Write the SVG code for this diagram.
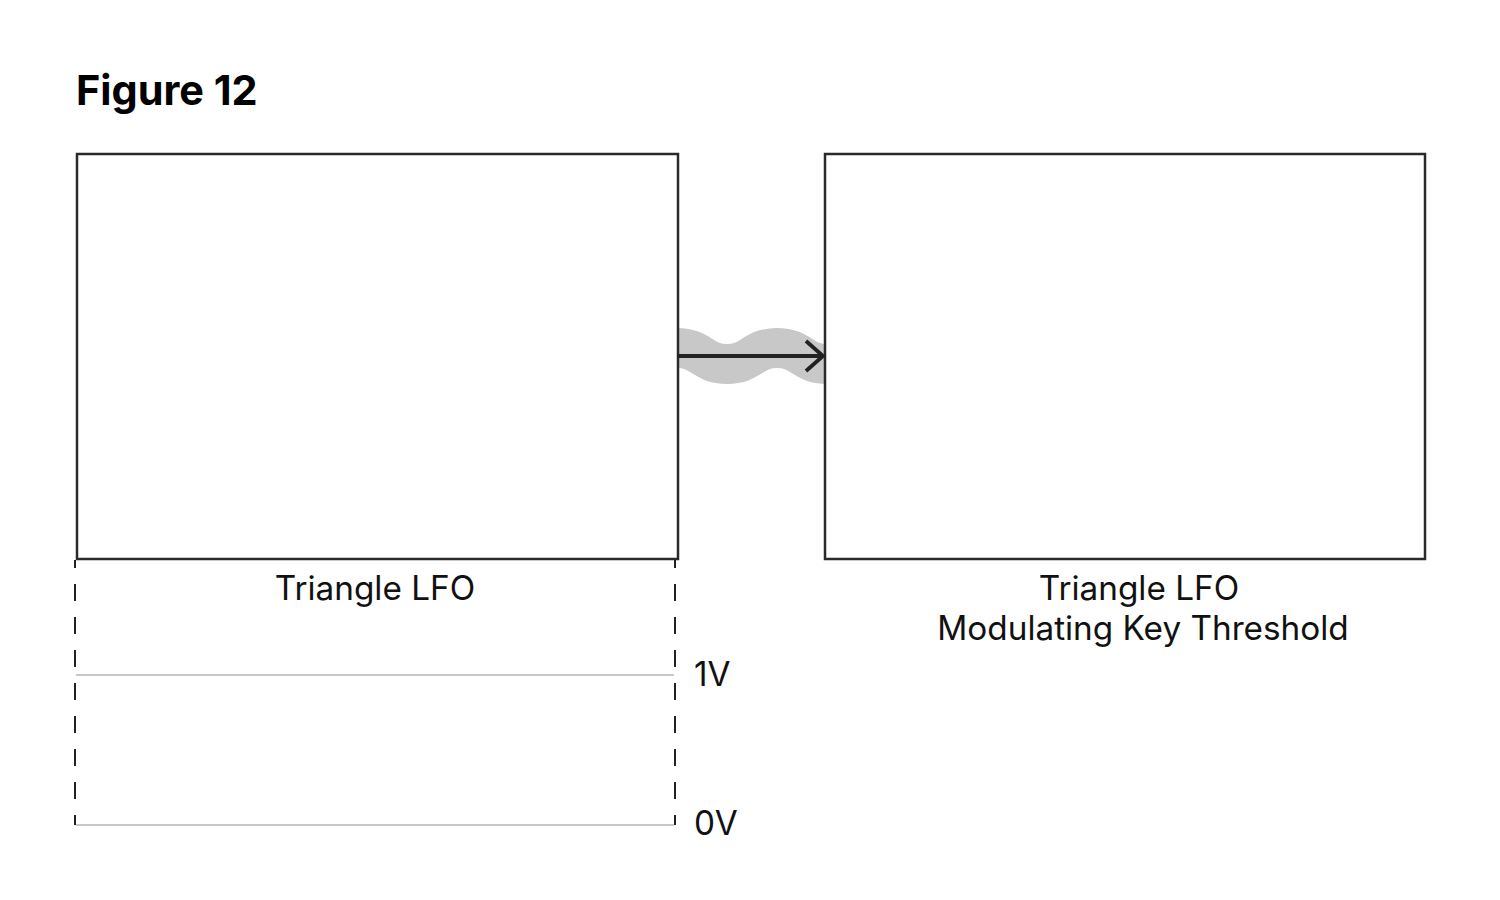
<svg xmlns="http://www.w3.org/2000/svg" width="1500" height="900" viewBox="0 0 1500 900">
<style>
.box{fill:#fff;stroke:#2a2a2a;stroke-width:2.5}
.lbl{font-family:Inter,"Liberation Sans",sans-serif;font-size:33.3px;fill:#111;text-anchor:middle}
.v{font-family:Inter,"Liberation Sans",sans-serif;font-size:33.3px;fill:#111}
.dash{stroke:#222;stroke-width:2;stroke-dasharray:17 16;stroke-dashoffset:9;fill:none}
.grid{stroke:#c8c8c8;stroke-width:2;fill:none}
</style>
<rect width="1500" height="900" fill="#fff"/>
<text x="76" y="105" font-family="Inter,'Liberation Sans',sans-serif" font-size="41.4" font-weight="700" fill="#000">Figure 12</text>
<g id="connectors">
<path d="M677,348 C702,348 702,364 727,364 C752,364 752,348 777,348 C802,348 802,364 827,364" fill="none" stroke="#c8c8c8" stroke-width="40"/>
</g>
<g id="node-left">
<rect class="box" x="77" y="154" width="601" height="405"/>
<text class="lbl" x="375" y="600">Triangle LFO</text>
</g>
<g id="node-right">
<rect class="box" x="825" y="154" width="600" height="405"/>
<text class="lbl" x="1139" y="600">Triangle LFO</text>
<text class="lbl" x="1143" y="640">Modulating Key Threshold</text>
</g>
<g id="connectors-arrow">
<line x1="677" y1="356" x2="823" y2="356" stroke="#222" stroke-width="3.8"/>
<polyline points="806,341 823,356 806,371" fill="none" stroke="#222" stroke-width="3.8"/>
</g>
<g id="scale">
<line class="dash" x1="75" y1="560" x2="75" y2="825"/>
<line class="dash" x1="675" y1="560" x2="675" y2="825"/>
<line class="grid" x1="76" y1="675" x2="674" y2="675"/>
<line class="grid" x1="76" y1="825" x2="674" y2="825"/>
<text class="v" x="694" y="686">1V</text>
<text class="v" x="694" y="835">0V</text>
</g>
</svg>
